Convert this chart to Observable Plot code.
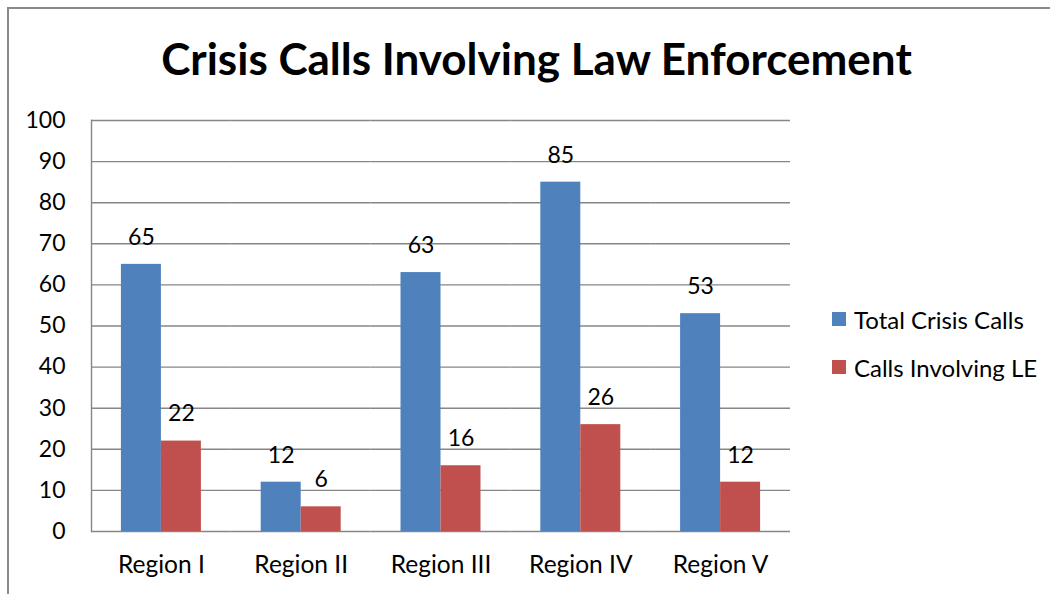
<!DOCTYPE html>
<html>
<head>
<meta charset="utf-8">
<script src="https://cdn.jsdelivr.net/npm/d3@7"></script>
<script src="https://cdn.jsdelivr.net/npm/@observablehq/plot@0.6"></script>
<style>
  html, body { margin: 0; padding: 0; background: #fff; }
  #wrap { position: relative; width: 1050px; height: 594px; overflow: hidden; font-family: Lato, "Open Sans", sans-serif; }
  #bl { position: absolute; left: 7px; top: 7px; width: 2px; height: 600px; background: #8a8a8a; }
  #bt { position: absolute; left: 7px; top: 7px; width: 1100px; height: 2px; background: #8a8a8a; }
  #title { position: absolute; left: 0; top: 30px; width: 1073px; text-align: center; font-weight: bold; font-size: 44px; color: #000; line-height: 56px; }
  #chart { position: absolute; left: 0; top: 100px; }
  #legend { position: absolute; left: 832px; top: 304px; font-size: 24px; color: #000; }
  .li { display: flex; align-items: center; height: 30px; margin-bottom: 18px; }
  .sw { width: 14px; height: 14px; margin-right: 8px; }
</style>
</head>
<body>
<div id="wrap">
  <div id="bl"></div><div id="bt"></div>
  <div id="title">Crisis Calls Involving Law Enforcement</div>
  <div id="chart"></div>
  <div id="legend"></div>
</div>
<script>
const regions = ["Region I", "Region II", "Region III", "Region IV", "Region V"];
const seriesNames = ["Total Crisis Calls", "Calls Involving LE"];
const totalCalls = [65, 12, 63, 85, 53];
const leCalls = [22, 6, 16, 26, 12];
const colors = ["#4F81BD", "#C0504D"];
const yTicks = [0, 10, 20, 30, 40, 50, 60, 70, 80, 90, 100];

const data = [];
regions.forEach((r, i) => {
  data.push({region: r, series: seriesNames[0], value: totalCalls[i]});
  data.push({region: r, series: seriesNames[1], value: leCalls[i]});
});

const chart = Plot.plot({
  width: 1050,
  height: 494,
  marginTop: 20,
  marginBottom: 63,
  marginLeft: 91,
  marginRight: 260,
  style: {fontFamily: "Lato, 'Open Sans', sans-serif", fontSize: "23px", color: "#000", background: "transparent"},
  fx: {domain: regions, padding: 0, round: false, label: null},
  x: {domain: seriesNames, paddingInner: 0, paddingOuter: 0.7475, round: false, axis: null},
  y: {domain: [0, 100], label: null},
  color: {domain: seriesNames, range: colors},
  marks: [
    Plot.ruleY(yTicks, {stroke: "#868686", strokeWidth: 1.4, strokeOpacity: 1}),
    Plot.frame({anchor: "left", facetAnchor: "left", stroke: "#868686", strokeWidth: 1.4, strokeOpacity: 1}),
    Plot.barY(data, {fx: "region", x: "series", y: "value", fill: "series", insetLeft: 0, insetRight: 0}),
    Plot.text(data, {fx: "region", x: "series", y: "value", text: d => String(d.value), dy: -27, fontSize: 23, fill: "#000"}),
    Plot.axisY({ticks: yTicks, tickSize: 0, tickPadding: 26, fontSize: 23, label: null}),
    Plot.axisFx({anchor: "bottom", tickSize: 0, tickPadding: 24, fontSize: 24.5, label: null})
  ]
});
document.getElementById("chart").appendChild(chart);

const legend = document.getElementById("legend");
seriesNames.forEach((s, i) => {
  const row = document.createElement("div");
  row.className = "li";
  const sw = document.createElement("div");
  sw.className = "sw";
  sw.style.background = colors[i];
  const t = document.createElement("span");
  t.textContent = s;
  row.appendChild(sw); row.appendChild(t);
  legend.appendChild(row);
});
</script>
</body>
</html>
